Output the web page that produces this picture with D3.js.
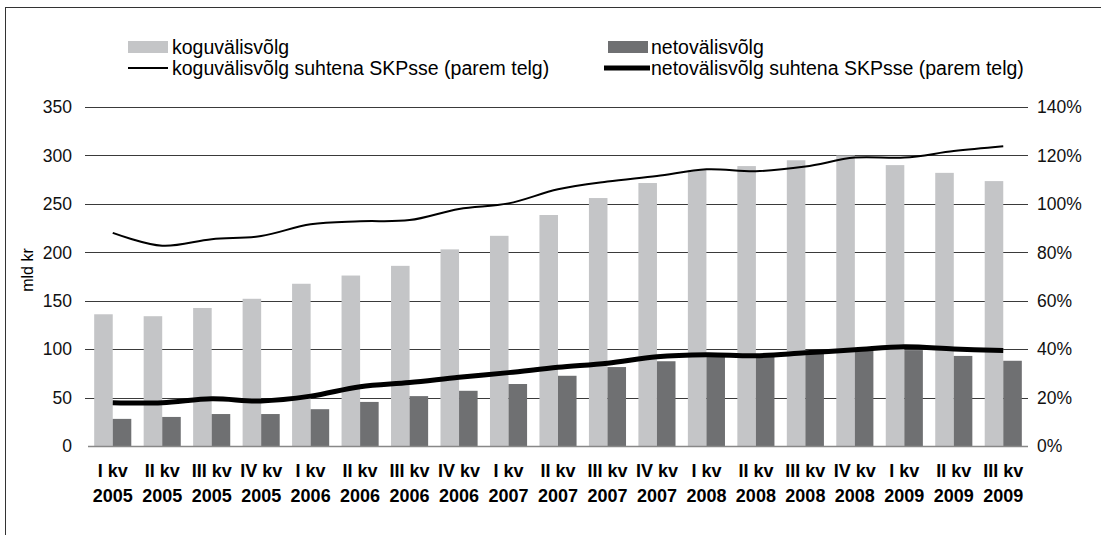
<!DOCTYPE html>
<html>
<head>
<meta charset="utf-8">
<script src="https://cdn.jsdelivr.net/npm/d3@7"></script>
<style>
  body { margin: 0; background: #fff; }
  text { font-family: "Liberation Sans", Arial, Helvetica, sans-serif; }
</style>
</head>
<body>
<div id="chart"></div>
<script>
var quarters = ["I kv", "II kv", "III kv", "IV kv", "I kv", "II kv", "III kv", "IV kv", "I kv", "II kv",
                "III kv", "IV kv", "I kv", "II kv", "III kv", "IV kv", "I kv", "II kv", "III kv"];
var years = ["2005", "2005", "2005", "2005", "2006", "2006", "2006", "2006", "2007", "2007",
             "2007", "2007", "2008", "2008", "2008", "2008", "2009", "2009", "2009"];

// mld kr
var gross = [136, 134, 142.5, 152, 167.5, 176, 186, 203, 217, 238.5,
             256, 271.5, 285, 289, 295, 300, 290, 282, 273.5];
var net = [28, 30, 33, 33, 38, 45.5, 51.5, 57, 64, 72.5,
           81.5, 87.5, 93, 94, 96, 99, 99, 93, 88];

// % of GDP (right axis)
var grossPct = [88, 82.7, 85.4, 86.7, 91.6, 92.8, 93.3, 97.9, 100.2, 106,
                109.2, 111.5, 114.3, 113.5, 115.4, 119.1, 119.1, 121.8, 123.8];
var netPct = [17.9, 17.9, 19.5, 18.6, 20.6, 24.5, 26.2, 28.4, 30.3, 32.5,
              34.2, 36.9, 37.7, 37.3, 38.5, 39.7, 41, 40.1, 39.4];

var leftTicks = [0, 50, 100, 150, 200, 250, 300, 350];
var rightTicks = [0, 20, 40, 60, 80, 100, 120, 140];

var W = 1101, H = 535;
var margin = {top: 107, left: 88, right: 73, bottom: 89},
    width  = W - margin.left - margin.right,
    height = H - margin.top - margin.bottom;

var svg = d3.select("#chart").append("svg")
    .attr("width", W)
    .attr("height", H);

// outer frame
svg.append("rect")
    .attr("x", 5.5).attr("y", 7.5)
    .attr("width", 1100).attr("height", 540)
    .attr("fill", "none")
    .attr("stroke", "#333")
    .attr("stroke-width", 1);

var g = svg.append("g").attr("transform", "translate(" + margin.left + "," + margin.top + ")");

var idx = d3.range(quarters.length);

var x = d3.scaleBand().domain(idx).range([0, width]).paddingInner(0.25).paddingOuter(0.125);
var x1 = d3.scaleBand().domain(["gross", "net"]).range([0, x.bandwidth()]);
var y = d3.scaleLinear().domain([0, 350]).range([height, 0]);
var y2 = d3.scaleLinear().domain([0, 140]).range([height, 0]);

var cx = function(i) { return x(i) + x.bandwidth() / 2; };

// gridlines (behind bars)
g.append("g")
  .selectAll("line")
  .data(leftTicks.filter(function(d) { return d > 0; }))
  .join("line")
    .attr("x1", -3).attr("x2", width)
    .attr("y1", function(d) { return Math.round(y(d)) + 0.5; })
    .attr("y2", function(d) { return Math.round(y(d)) + 0.5; })
    .attr("stroke", "#3a3a3a")
    .attr("stroke-width", 1);

// bars
g.append("g").selectAll("rect")
  .data(idx)
  .join("rect")
    .attr("x", function(i) { return x(i) + x1("gross"); })
    .attr("y", function(i) { return y(gross[i]); })
    .attr("width", x1.bandwidth())
    .attr("height", function(i) { return height - y(gross[i]); })
    .attr("fill", "#c4c5c7");

g.append("g").selectAll("rect")
  .data(idx)
  .join("rect")
    .attr("x", function(i) { return x(i) + x1("net"); })
    .attr("y", function(i) { return y(net[i]); })
    .attr("width", x1.bandwidth())
    .attr("height", function(i) { return height - y(net[i]); })
    .attr("fill", "#6f7072");

// baseline
g.append("line")
  .attr("x1", 0).attr("x2", width)
  .attr("y1", height + 0.5).attr("y2", height + 0.5)
  .attr("stroke", "#888")
  .attr("stroke-width", 1.5);

// lines on right axis
var line = function(arr) {
  return d3.line()
    .x(function(i) { return cx(i); })
    .y(function(i) { return y2(arr[i]); })
    .curve(d3.curveCatmullRom.alpha(0.5));
};

g.append("path")
  .datum(idx)
  .attr("fill", "none")
  .attr("stroke", "#000")
  .attr("stroke-width", 2)
  .attr("d", line(grossPct));

g.append("path")
  .datum(idx)
  .attr("fill", "none")
  .attr("stroke", "#000")
  .attr("stroke-width", 5)
  .attr("d", line(netPct));

// left axis labels
g.append("g").selectAll("text")
  .data(leftTicks)
  .join("text")
    .attr("x", -16)
    .attr("y", function(d) { return y(d); })
    .attr("dy", "0.36em")
    .attr("text-anchor", "end")
    .attr("font-size", 17.5)
    .attr("fill", "#111")
    .text(function(d) { return d; });

// right axis labels
g.append("g").selectAll("text")
  .data(rightTicks)
  .join("text")
    .attr("x", width + 9)
    .attr("y", function(d) { return y2(d); })
    .attr("dy", "0.36em")
    .attr("text-anchor", "start")
    .attr("font-size", 17.5)
    .attr("fill", "#111")
    .text(function(d) { return d + "%"; });

// x labels
var xl = g.append("g").selectAll("text")
  .data(idx)
  .join("text")
    .attr("text-anchor", "middle")
    .attr("font-size", 18)
    .attr("font-weight", "bold")
    .attr("fill", "#000");
xl.append("tspan")
    .attr("x", function(i) { return cx(i); })
    .attr("y", height + 31)
    .text(function(i) { return quarters[i]; });
xl.append("tspan")
    .attr("x", function(i) { return cx(i); })
    .attr("y", height + 56)
    .text(function(i) { return years[i]; });

// y title
svg.append("text")
  .attr("transform", "translate(33,270) rotate(-90)")
  .attr("text-anchor", "middle")
  .attr("font-size", 16)
  .attr("fill", "#000")
  .text("mld kr");

// legend
var legend = svg.append("g").attr("font-size", 19.5);
legend.append("rect").attr("x", 128).attr("y", 41).attr("width", 40).attr("height", 12).attr("fill", "#c4c5c7");
legend.append("text").attr("x", 172).attr("y", 54).text("koguvälisvõlg");
legend.append("line").attr("x1", 128).attr("x2", 168).attr("y1", 68).attr("y2", 68).attr("stroke", "#000").attr("stroke-width", 2);
legend.append("text").attr("x", 172).attr("y", 75).text("koguvälisvõlg suhtena SKPsse (parem telg)");

legend.append("rect").attr("x", 608).attr("y", 41).attr("width", 40).attr("height", 12).attr("fill", "#6f7072");
legend.append("text").attr("x", 651).attr("y", 54).text("netovälisvõlg");
legend.append("line").attr("x1", 604).attr("x2", 650).attr("y1", 68).attr("y2", 68).attr("stroke", "#000").attr("stroke-width", 5);
legend.append("text").attr("x", 651).attr("y", 75).text("netovälisvõlg suhtena SKPsse (parem telg)");
</script>
</body>
</html>
